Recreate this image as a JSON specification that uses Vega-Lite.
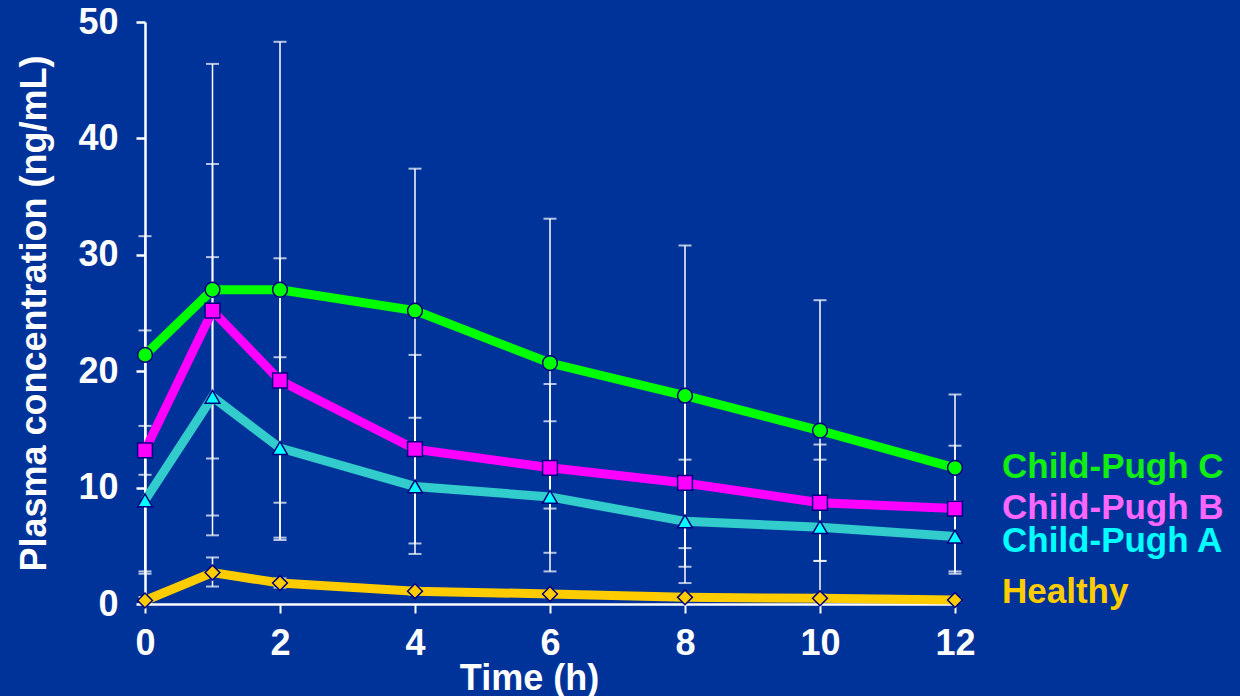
{
  "$schema": "https://vega.github.io/schema/vega-lite/v6.json",
  "autosize": "none",
  "width": 810,
  "height": 582,
  "padding": {"left": 145, "top": 22, "right": 285, "bottom": 92},
  "background": "#003399",
  "config": {
    "view": {"stroke": null},
    "font": "Liberation Sans"
  },
  "data": {
    "values": [
      {"group": "Child-Pugh C", "t": 0, "c": 21.4, "lo": 11.1, "hi": 31.6},
      {"group": "Child-Pugh C", "t": 1, "c": 27.0, "lo": 7.6, "hi": 46.4},
      {"group": "Child-Pugh C", "t": 2, "c": 27.0, "lo": 5.7, "hi": 48.3},
      {"group": "Child-Pugh C", "t": 4, "c": 25.2, "lo": 13.0, "hi": 37.4},
      {"group": "Child-Pugh C", "t": 6, "c": 20.7, "lo": 8.2, "hi": 33.1},
      {"group": "Child-Pugh C", "t": 8, "c": 17.9, "lo": 4.8, "hi": 30.8},
      {"group": "Child-Pugh C", "t": 10, "c": 14.9, "lo": 3.7, "hi": 26.1},
      {"group": "Child-Pugh C", "t": 12, "c": 11.7, "lo": 5.4, "hi": 18.0},
      {"group": "Child-Pugh B", "t": 0, "c": 13.2, "lo": 2.8, "hi": 23.5},
      {"group": "Child-Pugh B", "t": 1, "c": 25.2, "lo": 12.5, "hi": 37.8},
      {"group": "Child-Pugh B", "t": 2, "c": 19.2, "lo": 8.7, "hi": 29.7},
      {"group": "Child-Pugh B", "t": 4, "c": 13.3, "lo": 5.2, "hi": 21.4},
      {"group": "Child-Pugh B", "t": 6, "c": 11.7, "lo": 4.4, "hi": 18.9},
      {"group": "Child-Pugh B", "t": 8, "c": 10.4, "lo": 3.2, "hi": 17.6},
      {"group": "Child-Pugh B", "t": 10, "c": 8.7, "lo": 3.7, "hi": 13.7},
      {"group": "Child-Pugh B", "t": 12, "c": 8.2, "lo": 2.6, "hi": 13.6},
      {"group": "Child-Pugh A", "t": 0, "c": 8.9, "lo": 2.6, "hi": 15.3},
      {"group": "Child-Pugh A", "t": 1, "c": 17.8, "lo": 5.9, "hi": 29.8},
      {"group": "Child-Pugh A", "t": 2, "c": 13.4, "lo": 5.5, "hi": 21.2},
      {"group": "Child-Pugh A", "t": 4, "c": 10.1, "lo": 4.3, "hi": 16.0},
      {"group": "Child-Pugh A", "t": 6, "c": 9.2, "lo": 2.8, "hi": 15.7},
      {"group": "Child-Pugh A", "t": 8, "c": 7.1, "lo": 1.8, "hi": 12.4},
      {"group": "Child-Pugh A", "t": 10, "c": 6.6, "lo": 0.8, "hi": 12.4},
      {"group": "Child-Pugh A", "t": 12, "c": 5.8, "lo": 2.8, "hi": 8.8},
      {"group": "Healthy", "t": 0, "c": 0.3, "lo": 0.0, "hi": 0.6},
      {"group": "Healthy", "t": 1, "c": 2.7, "lo": 1.5, "hi": 4.0},
      {"group": "Healthy", "t": 2, "c": 1.8, "lo": 1.4, "hi": 2.2},
      {"group": "Healthy", "t": 4, "c": 1.1, "lo": 0.8, "hi": 1.4},
      {"group": "Healthy", "t": 6, "c": 0.86, "lo": 0.6, "hi": 1.1},
      {"group": "Healthy", "t": 8, "c": 0.57, "lo": 0.35, "hi": 0.8},
      {"group": "Healthy", "t": 10, "c": 0.49, "lo": 0.3, "hi": 0.7},
      {"group": "Healthy", "t": 12, "c": 0.34, "lo": 0.2, "hi": 0.5}
    ]
  },
  "resolve": {"scale": {"color": "independent", "fill": "independent", "shape": "independent"}},
  "layer": [
    {
      "mark": {"type": "errorbar", "color": "white", "thickness": 1.5, "ticks": {"size": 13, "thickness": 2, "color": "white"}},
      "encoding": {
        "x": {
          "field": "t", "type": "quantitative",
          "scale": {"domain": [0, 12], "nice": false},
          "axis": {
            "values": [0, 2, 4, 6, 8, 10, 12], "format": "d", "grid": false, "labelFlush": false,
            "domainColor": "white", "domainWidth": 2.5,
            "tickColor": "white", "tickWidth": 2, "tickSize": 9,
            "labelColor": "white", "labelFontSize": 36, "labelFontWeight": "bold", "labelPadding": 13,
            "title": "Time (h)", "titleColor": "white", "titleFontSize": 36, "titleFontWeight": "bold", "titlePadding": 0, "titleX": 384
          }
        },
        "y": {
          "field": "lo", "type": "quantitative",
          "scale": {"domain": [0, 50], "nice": false},
          "axis": {
            "values": [0, 10, 20, 30, 40, 50], "grid": false, "labelFlush": false,
            "domainColor": "white", "domainWidth": 2.5,
            "tickColor": "white", "tickWidth": 2.5, "tickSize": 9,
            "labelColor": "white", "labelFontSize": 36, "labelFontWeight": "bold", "labelPadding": 18,
            "title": "Plasma concentration (ng/mL)", "titleColor": "white", "titleFontSize": 36, "titleFontWeight": "bold", "titlePadding": 24
          }
        },
        "y2": {"field": "hi"}
      }
    },
    {
      "mark": {"type": "line", "strokeWidth": 9},
      "encoding": {
        "x": {"field": "t", "type": "quantitative"},
        "y": {"field": "c", "type": "quantitative"},
        "color": {
          "field": "group", "type": "nominal", "legend": null,
          "scale": {"domain": ["Child-Pugh C", "Child-Pugh B", "Child-Pugh A", "Healthy"], "range": ["#00ff00", "#ff00ff", "#33cccc", "#ffcc00"]}
        }
      }
    },
    {
      "mark": {"type": "point", "filled": true, "opacity": 1, "stroke": "#000080", "strokeWidth": 1.5},
      "encoding": {
        "x": {"field": "t", "type": "quantitative"},
        "y": {"field": "c", "type": "quantitative"},
        "fill": {
          "field": "group", "type": "nominal", "legend": null,
          "scale": {"domain": ["Child-Pugh C", "Child-Pugh B", "Child-Pugh A", "Healthy"], "range": ["#00ff00", "#ff00ff", "#00ffff", "#ffcc00"]}
        },
        "shape": {
          "field": "group", "type": "nominal", "legend": null,
          "scale": {"domain": ["Child-Pugh C", "Child-Pugh B", "Child-Pugh A", "Healthy"], "range": ["circle", "square", "triangle-up", "diamond"]}
        },
        "size": {"value": 220}
      }
    },
    {
      "transform": [{"filter": "datum.t == 12 && (datum.group == 'Child-Pugh C' || datum.group == 'Child-Pugh B')"}],
      "mark": {"type": "text", "align": "left", "baseline": "middle", "dx": 47, "dy": -1, "fontSize": 35, "fontWeight": "bold"},
      "encoding": {
        "x": {"field": "t", "type": "quantitative"},
        "y": {"field": "c", "type": "quantitative"},
        "text": {"field": "group"},
        "color": {
          "field": "group", "type": "nominal", "legend": null,
          "scale": {"domain": ["Child-Pugh C", "Child-Pugh B", "Child-Pugh A", "Healthy"], "range": ["#11ee11", "#ff66ff", "#00ffff", "#ffcc00"]}
        }
      }
    },
    {
      "transform": [{"filter": "datum.t == 12 && datum.group == 'Child-Pugh A'"}],
      "mark": {"type": "text", "align": "left", "baseline": "middle", "dx": 47, "dy": 5, "fontSize": 35, "fontWeight": "bold", "color": "#00ffff"},
      "encoding": {
        "x": {"field": "t", "type": "quantitative"},
        "y": {"field": "c", "type": "quantitative"},
        "text": {"field": "group"}
      }
    },
    {
      "transform": [{"filter": "datum.t == 12 && datum.group == 'Healthy'"}],
      "mark": {"type": "text", "align": "left", "baseline": "middle", "dx": 47, "dy": -8, "fontSize": 35, "fontWeight": "bold", "color": "#ffcc00"},
      "encoding": {
        "x": {"field": "t", "type": "quantitative"},
        "y": {"field": "c", "type": "quantitative"},
        "text": {"field": "group"}
      }
    }
  ]
}
